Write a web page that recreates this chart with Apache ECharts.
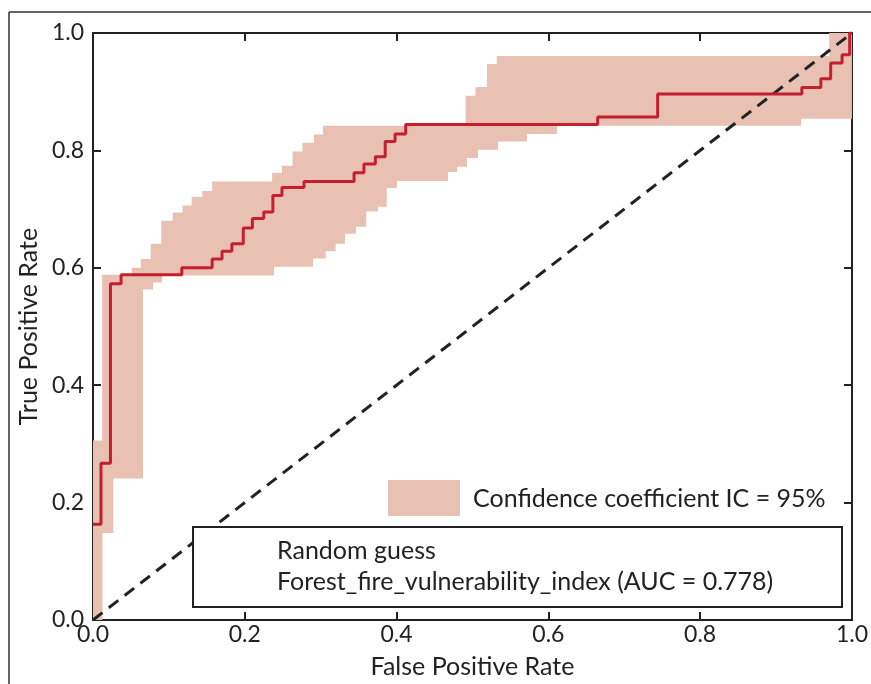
<!DOCTYPE html>
<html>
<head>
<meta charset="utf-8">
<script src="https://cdn.jsdelivr.net/npm/echarts@6/dist/echarts.min.js"></script>
<style>
html,body{margin:0;padding:0;background:#fff;}
#chart{width:871px;height:684px;}
</style>
</head>
<body>
<div id="chart"></div>
<script>
// ROC curve (step "end": at fpr x the rate jumps to tpr y)
var rocFpr = [0, 0.0105, 0.023, 0.037, 0.117, 0.157, 0.170, 0.183, 0.198, 0.210, 0.225, 0.237, 0.249, 0.278, 0.344, 0.357, 0.372, 0.385, 0.398, 0.412, 0.665, 0.744, 0.934, 0.959, 0.972, 0.987, 0.997, 1.0];
var rocTpr = [0.163, 0.267, 0.573, 0.588, 0.600, 0.615, 0.628, 0.641, 0.668, 0.684, 0.695, 0.723, 0.737, 0.747, 0.762, 0.777, 0.789, 0.815, 0.828, 0.844, 0.857, 0.896, 0.907, 0.922, 0.949, 0.963, 1.0, 1.0];

// 95% confidence band: value holds from x[i] to x[i+1]
var upperX = [0, 0.012, 0.051, 0.063, 0.076, 0.090, 0.105, 0.118, 0.130, 0.144, 0.157, 0.236, 0.249, 0.263, 0.276, 0.291, 0.303, 0.491, 0.504, 0.519, 0.532, 0.970];
var upperY = [0.306, 0.588, 0.600, 0.615, 0.641, 0.680, 0.694, 0.706, 0.721, 0.731, 0.747, 0.762, 0.774, 0.798, 0.813, 0.827, 0.842, 0.893, 0.908, 0.947, 0.961, 1.0];
var lowerX = [0, 0.0125, 0.0267, 0.0659, 0.0791, 0.0909, 0.2385, 0.2899, 0.3066, 0.3197, 0.332, 0.3465, 0.360, 0.3755, 0.387, 0.4005, 0.4677, 0.4796, 0.4928, 0.5073, 0.5336, 0.5718, 0.6113, 0.933];
var lowerY = [0, 0.148, 0.241, 0.563, 0.575, 0.587, 0.602, 0.616, 0.628, 0.641, 0.658, 0.670, 0.696, 0.704, 0.736, 0.748, 0.763, 0.772, 0.787, 0.801, 0.815, 0.828, 0.842, 0.854];

var diagX = [0, 1];
var diagY = [0, 1];

var legendBand = 'Confidence coefficient IC = 95%';
var legendRandom = 'Random guess';
var legendRoc = 'Forest_fire_vulnerability_index (AUC = 0.778)';

var FONT = 'Lato';
var bandColor = '#e9c1b3';
var rocColor = '#c41e2f';

function stepPoints(xs, ys) {
  var pts = [];
  for (var i = 0; i < xs.length; i++) {
    var x1 = (i + 1 < xs.length) ? xs[i + 1] : 1.0;
    pts.push([xs[i], ys[i]]);
    pts.push([x1, ys[i]]);
  }
  return pts;
}

var chart = echarts.init(document.getElementById('chart'), null, {renderer: 'canvas'});

var axisCommon = {
  type: 'value', min: 0, max: 1, interval: 0.2,
  axisLine: {show: true, onZero: false, lineStyle: {color: '#222', width: 2}},
  axisTick: {show: true, inside: true, length: 8, lineStyle: {color: '#222', width: 2}},
  splitLine: {show: false}
};

var option = {
  backgroundColor: '#fff',
  animation: false,
  grid: {left: 93, right: 19, top: 33, bottom: 63, show: false},
  xAxis: [
    Object.assign({}, axisCommon, {
      position: 'bottom',
      name: 'False Positive Rate', nameLocation: 'middle', nameGap: 34,
      nameTextStyle: {fontFamily: FONT, fontSize: 25, color: '#222'},
      axisLabel: {fontFamily: FONT, fontSize: 23, color: '#222', margin: 3,
        formatter: function (v) { return v.toFixed(1); }}
    }),
    Object.assign({}, axisCommon, {position: 'top', axisLabel: {show: false}})
  ],
  yAxis: [
    Object.assign({}, axisCommon, {
      position: 'left',
      name: 'True Positive Rate', nameLocation: 'middle', nameGap: 48,
      nameTextStyle: {fontFamily: FONT, fontSize: 25, color: '#222'},
      axisLabel: {fontFamily: FONT, fontSize: 23, color: '#222', margin: 9,
        formatter: function (v) { return v.toFixed(1); }}
    }),
    Object.assign({}, axisCommon, {position: 'right', axisLabel: {show: false}})
  ],
  series: [
    {
      type: 'custom',
      name: legendBand,
      z: 1,
      silent: true,
      data: [[0, 0]],
      renderItem: function (params, api) {
        var up = stepPoints(upperX, upperY);
        var lo = stepPoints(lowerX, lowerY).reverse();
        var pts = up.concat(lo).map(function (p) { return api.coord(p); });
        return {type: 'polygon', shape: {points: pts}, style: {fill: bandColor, stroke: null}};
      }
    },
    {
      type: 'line',
      name: legendRandom,
      z: 2,
      data: diagX.map(function (x, i) { return [x, diagY[i]]; }),
      showSymbol: false,
      lineStyle: {color: '#222', width: 3, type: [12, 8]}
    },
    {
      type: 'line',
      name: legendRoc,
      z: 3,
      step: 'end',
      data: rocFpr.map(function (x, i) { return [x, rocTpr[i]]; }),
      showSymbol: false,
      lineStyle: {color: rocColor, width: 3}
    }
  ],
  graphic: [
    {type: 'line', shape: {x1: 9, y1: 12, x2: 871, y2: 12}, style: {stroke: '#333', lineWidth: 1.5}, z: 100},
    {type: 'line', shape: {x1: 9, y1: 12, x2: 9, y2: 684}, style: {stroke: '#333', lineWidth: 1.5}, z: 100},
    {type: 'rect', shape: {x: 388, y: 480, width: 72, height: 36}, style: {fill: bandColor}, z: 100},
    {type: 'text', x: 473, y: 499, style: {text: legendBand, fontFamily: FONT, fontSize: 25, fill: '#222', textVerticalAlign: 'middle'}, z: 100},
    {type: 'rect', shape: {x: 193, y: 527, width: 649, height: 80}, style: {fill: '#fff', stroke: '#222', lineWidth: 2}, z: 100},
    {type: 'text', x: 277, y: 551, style: {text: legendRandom, fontFamily: FONT, fontSize: 25, fill: '#222', textVerticalAlign: 'middle'}, z: 101},
    {type: 'text', x: 277, y: 582, style: {text: legendRoc, fontFamily: FONT, fontSize: 25, fill: '#222', textVerticalAlign: 'middle'}, z: 101}
  ]
};
chart.setOption(option);
</script>
</body>
</html>
